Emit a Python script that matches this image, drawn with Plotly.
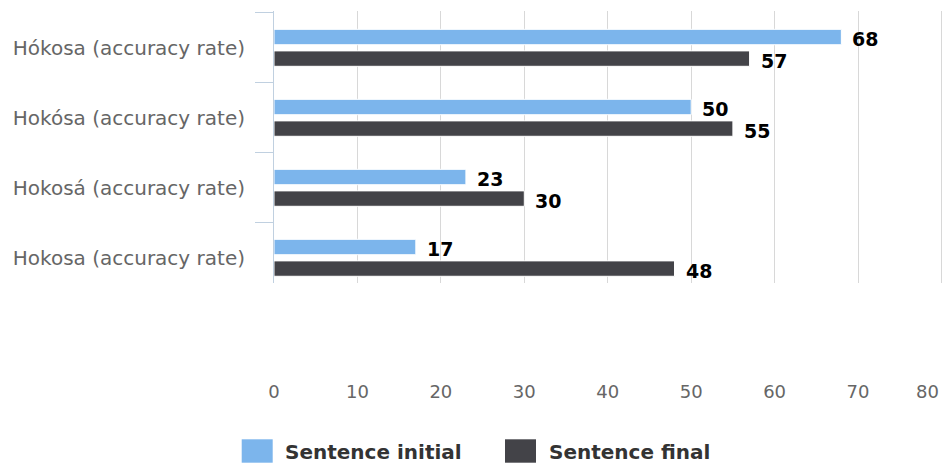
import plotly.graph_objects as go

# Categories (top to bottom) and series values
categories = [
    "Hókosa (accuracy rate)",
    "Hokósa (accuracy rate)",
    "Hokosá (accuracy rate)",
    "Hokosa (accuracy rate)",
]
sentence_initial = [68, 50, 23, 17]
sentence_final = [57, 55, 30, 48]
series_names = ["Sentence initial", "Sentence final"]
x_ticks = [0, 10, 20, 30, 40, 50, 60, 70, 80]

COLORS = ["#7cb5ec", "#434348"]
FONT = "DejaVu Sans"
TICK_COLOR = "#666666"

W, H = 944, 469
M_L, M_R, M_T, M_B = 274, 0, 11, 186
PLOT_W = W - M_L - M_R
PLOT_H = H - M_T - M_B
X_MAX = 80.3  # a little past the last tick so its gridline is kept

# bar slots inside each category band (in category units)
BAR_W = 0.22
OFFSETS = [-0.264, 0.044]

fig = go.Figure()
for name, vals, color, off in zip(series_names, [sentence_initial, sentence_final], COLORS, OFFSETS):
    fig.add_trace(go.Bar(
        y=categories, x=vals, orientation="h", name=name,
        marker=dict(color=color, line=dict(color="#ffffff", width=1)),
        width=BAR_W, offset=off, showlegend=False,
        hoverinfo="x+name",
    ))

# value labels to the right of each bar
annotations = []
for vals, off in zip([sentence_initial, sentence_final], OFFSETS):
    for i, v in enumerate(vals):
        annotations.append(dict(
            x=v, y=i + off + BAR_W / 2, xref="x", yref="y",
            text=str(v), showarrow=False, xanchor="left", yanchor="middle",
            xshift=9, yshift=-2,
            font=dict(family=FONT, size=19, color="#000000", weight="bold"),
        ))


def px_x(px):
    return (px - M_L) / PLOT_W


def px_y(py):
    return (M_T + PLOT_H - py) / PLOT_H


# the last tick label is pulled inside the right edge of the chart
tick_text = [str(t) for t in x_ticks[:-1]] + [""]
annotations.append(dict(
    x=x_ticks[-1], y=px_y(391), xref="x", yref="paper",
    text=str(x_ticks[-1]), showarrow=False, xanchor="right", yanchor="middle",
    xshift=-1,
    font=dict(family=FONT, size=18, color=TICK_COLOR),
))

# legend: colour squares with bold labels, centred below the chart
shapes = []
legend_items = [(241.7, 283.3), (505.0, 546.7)]
for (sq_left, txt_left), name, color in zip(legend_items, series_names, COLORS):
    shapes.append(dict(
        type="rect", xref="paper", yref="paper",
        x0=px_x(sq_left), x1=px_x(sq_left + 31), y0=px_y(462.7), y1=px_y(439.3),
        fillcolor=color, line=dict(width=0), layer="above",
    ))
    annotations.append(dict(
        x=px_x(txt_left), y=px_y(452), xref="paper", yref="paper",
        text=name, showarrow=False, xanchor="left", yanchor="middle",
        font=dict(family=FONT, size=20, color="#333333", weight="bold"),
    ))

fig.update_layout(
    width=W, height=H, autosize=False,
    margin=dict(l=M_L, r=M_R, t=M_T, b=M_B, pad=0),
    paper_bgcolor="#ffffff", plot_bgcolor="#ffffff",
    barmode="group",
    showlegend=False,
    annotations=annotations,
    shapes=shapes,
    font=dict(family=FONT, color=TICK_COLOR),
)
fig.update_xaxes(
    range=[0, X_MAX], tickvals=x_ticks, ticktext=tick_text,
    showgrid=True, gridcolor="#d8d8d8", gridwidth=1,
    zeroline=False, showline=False, ticks="",
    tickfont=dict(family=FONT, size=18, color=TICK_COLOR),
    ticklabelstandoff=96,
)
fig.update_yaxes(
    type="category", categoryorder="array", categoryarray=categories,
    range=[3.36, -0.526],
    showgrid=False, zeroline=False,
    showline=True, linecolor="#c0d0e0", linewidth=1,
    ticks="outside", ticklen=18, tickcolor="#c0d0e0", tickwidth=1,
    tickson="boundaries",
    tickfont=dict(family=FONT, size=20, color=TICK_COLOR),
    ticklabelstandoff=24,
)

fig.write_html("out.html")
